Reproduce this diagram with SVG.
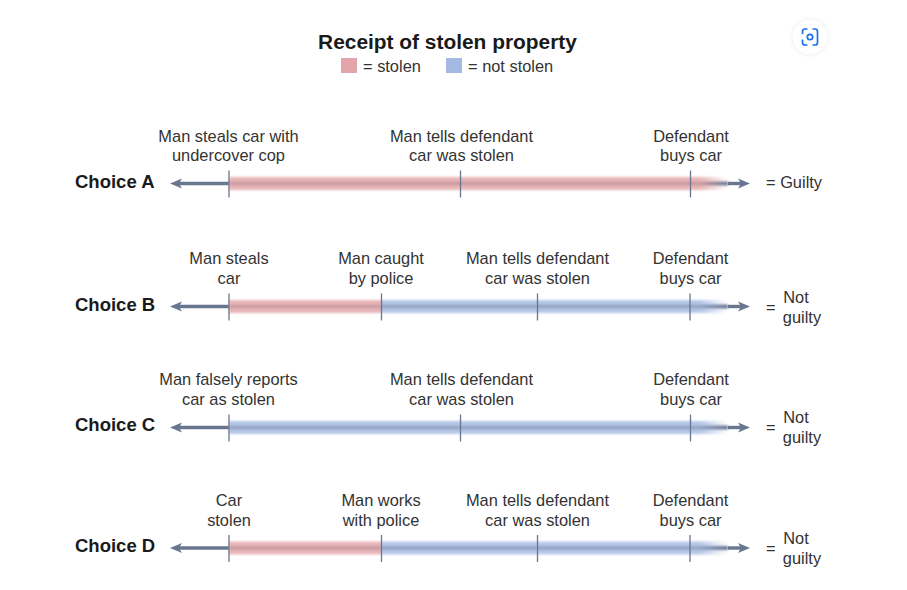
<svg xmlns="http://www.w3.org/2000/svg" width="907" height="590" viewBox="0 0 907 590">
<style>
text{font-family:"Liberation Sans",Arial,sans-serif;font-size:16.4px;fill:#333;text-anchor:middle}
.choice{font-size:18.5px;font-weight:bold;fill:#1a1a1a;text-anchor:start}
.title{font-size:20.9px;font-weight:bold;fill:#1a1a1a}
.s{text-anchor:start}
.axis{stroke:#69768f;stroke-width:3.4;fill:none}
.tip{fill:#69768f}
.tick{stroke:#69768f;stroke-width:1.3}
</style>
<defs>
<linearGradient id="fr" x1="0" x2="1" y1="0" y2="0"><stop offset="0" stop-color="#e8b6b8"/><stop offset="1" stop-color="#e8b6b8" stop-opacity="0"/></linearGradient>
<linearGradient id="fb" x1="0" x2="1" y1="0" y2="0"><stop offset="0" stop-color="#b6c7e7"/><stop offset="1" stop-color="#b6c7e7" stop-opacity="0"/></linearGradient>
<linearGradient id="fc" x1="0" x2="1" y1="0" y2="0"><stop offset="0" stop-color="#cd9ca3"/><stop offset="1" stop-color="#69768f"/></linearGradient>
<linearGradient id="fd" x1="0" x2="1" y1="0" y2="0"><stop offset="0" stop-color="#95a6c6"/><stop offset="1" stop-color="#69768f"/></linearGradient>
<filter id="sh" x="-40%" y="-40%" width="180%" height="180%"><feGaussianBlur stdDeviation="2"/></filter>
<filter id="bl" x="-2%" y="-30%" width="104%" height="160%"><feGaussianBlur stdDeviation="0.8"/></filter>
</defs>
<rect width="907" height="590" fill="#fff"/>
<g id="lens">
<circle cx="810" cy="37" r="18" fill="#000" opacity="0.07" filter="url(#sh)"/>
<circle cx="810" cy="37" r="17.5" fill="#fff"/>
<path d="M802.500 34V31.500Q802.500 29 805 29H807.500M812.500 29H815Q817.500 29 817.500 31.500V42.500Q817.500 45 815 45H812.500M807.500 45H805Q802.500 45 802.500 42.500V39.500" fill="none" stroke="#1a73e8" stroke-width="1.700"/>
<circle cx="810" cy="37" r="2.700" fill="none" stroke="#1a73e8" stroke-width="1.700"/>
</g>
<g id="legend">
<text class="title" x="447.500" y="49">Receipt of stolen property</text>
<rect x="341" y="58" width="16" height="15" fill="#e3a5a9"/>
<text class="s" x="363" y="72">= stolen</text>
<rect x="446" y="58" width="16" height="15" fill="#a4b9e2"/>
<text class="s" x="468" y="72">= not stolen</text>
</g>
<g id="connectors">
<g id="lineA" transform="translate(0,183.500)">
<path class="axis" d="M178 0H229"/><path class="tip" d="M170 0L182 -5L179 0L182 5Z"/>
<g filter="url(#bl)"><rect x="229" y="-6.500" width="471" height="13" fill="#e8b6b8"/><rect x="700" y="-6.500" width="28" height="13" fill="url(#fr)"/>
<rect x="229" y="-2" width="471" height="4" fill="#cd9ca3"/><rect x="700" y="-2" width="28" height="4" fill="url(#fc)"/></g>
<path class="axis" d="M728 0H742"/><path class="tip" d="M750 0L738 -5L741 0L738 5Z"/>
<path class="tick" d="M229 -13V14M460.500 -13V14M690.500 -13V14"/>
</g>
<g id="lineB" transform="translate(0,306.500)">
<path class="axis" d="M178 0H229"/><path class="tip" d="M170 0L182 -5L179 0L182 5Z"/>
<g filter="url(#bl)"><rect x="229" y="-6.500" width="152" height="13" fill="#e8b6b8"/><rect x="229" y="-2" width="152" height="4" fill="#cd9ca3"/>
<rect x="381" y="-6.500" width="319" height="13" fill="#b6c7e7"/><rect x="700" y="-6.500" width="28" height="13" fill="url(#fb)"/>
<rect x="381" y="-2" width="319" height="4" fill="#95a6c6"/><rect x="700" y="-2" width="28" height="4" fill="url(#fd)"/></g>
<path class="axis" d="M728 0H742"/><path class="tip" d="M750 0L738 -5L741 0L738 5Z"/>
<path class="tick" d="M229 -13V14M381.500 -13V14M537.500 -13V14M690 -13V14"/>
</g>
<g id="lineC" transform="translate(0,427.500)">
<path class="axis" d="M178 0H229"/><path class="tip" d="M170 0L182 -5L179 0L182 5Z"/>
<g filter="url(#bl)"><rect x="229" y="-6.500" width="471" height="13" fill="#b6c7e7"/><rect x="700" y="-6.500" width="28" height="13" fill="url(#fb)"/>
<rect x="229" y="-2" width="471" height="4" fill="#95a6c6"/><rect x="700" y="-2" width="28" height="4" fill="url(#fd)"/></g>
<path class="axis" d="M728 0H742"/><path class="tip" d="M750 0L738 -5L741 0L738 5Z"/>
<path class="tick" d="M229 -13V14M460.500 -13V14M690.500 -13V14"/>
</g>
<g id="lineD" transform="translate(0,548)">
<path class="axis" d="M178 0H229"/><path class="tip" d="M170 0L182 -5L179 0L182 5Z"/>
<g filter="url(#bl)"><rect x="229" y="-6.500" width="152" height="13" fill="#e8b6b8"/><rect x="229" y="-2" width="152" height="4" fill="#cd9ca3"/>
<rect x="381" y="-6.500" width="319" height="13" fill="#b6c7e7"/><rect x="700" y="-6.500" width="28" height="13" fill="url(#fb)"/>
<rect x="381" y="-2" width="319" height="4" fill="#95a6c6"/><rect x="700" y="-2" width="28" height="4" fill="url(#fd)"/></g>
<path class="axis" d="M728 0H742"/><path class="tip" d="M750 0L738 -5L741 0L738 5Z"/>
<path class="tick" d="M229 -13V14M381.500 -13V14M537.500 -13V14M690 -13V14"/>
</g>
</g>
<g id="choiceA">
<text class="choice" x="75" y="187.500">Choice A</text>
<text x="228.500" y="141.500">Man steals car with</text><text x="228.500" y="161">undercover cop</text>
<text x="461.500" y="141.500">Man tells defendant</text><text x="461.500" y="161">car was stolen</text>
<text x="691" y="141.500">Defendant</text><text x="691" y="161">buys car</text>
<text class="s" x="766" y="188">= Guilty</text>
</g>
<g id="choiceB">
<text class="choice" x="75" y="310.500">Choice B</text>
<text x="229" y="264">Man steals</text><text x="229" y="284">car</text>
<text x="381" y="264">Man caught</text><text x="381" y="284">by police</text>
<text x="537.500" y="264">Man tells defendant</text><text x="537.500" y="284">car was stolen</text>
<text x="690.500" y="264">Defendant</text><text x="690.500" y="284">buys car</text>
<text class="s" x="766" y="313">=</text><text x="796" y="303">Not</text><text x="802" y="323">guilty</text>
</g>
<g id="choiceC">
<text class="choice" x="75" y="431">Choice C</text>
<text x="228.500" y="384.500">Man falsely reports</text><text x="228.500" y="404.500">car as stolen</text>
<text x="461.500" y="384.500">Man tells defendant</text><text x="461.500" y="404.500">car was stolen</text>
<text x="691" y="384.500">Defendant</text><text x="691" y="404.500">buys car</text>
<text class="s" x="766" y="433">=</text><text x="796" y="423">Not</text><text x="802" y="443">guilty</text>
</g>
<g id="choiceD">
<text class="choice" x="75" y="552">Choice D</text>
<text x="229" y="505.500">Car</text><text x="229" y="525.500">stolen</text>
<text x="381" y="505.500">Man works</text><text x="381" y="525.500">with police</text>
<text x="537.500" y="505.500">Man tells defendant</text><text x="537.500" y="525.500">car was stolen</text>
<text x="690.500" y="505.500">Defendant</text><text x="690.500" y="525.500">buys car</text>
<text class="s" x="766" y="554">=</text><text x="796" y="544">Not</text><text x="802" y="564">guilty</text>
</g>
</svg>
